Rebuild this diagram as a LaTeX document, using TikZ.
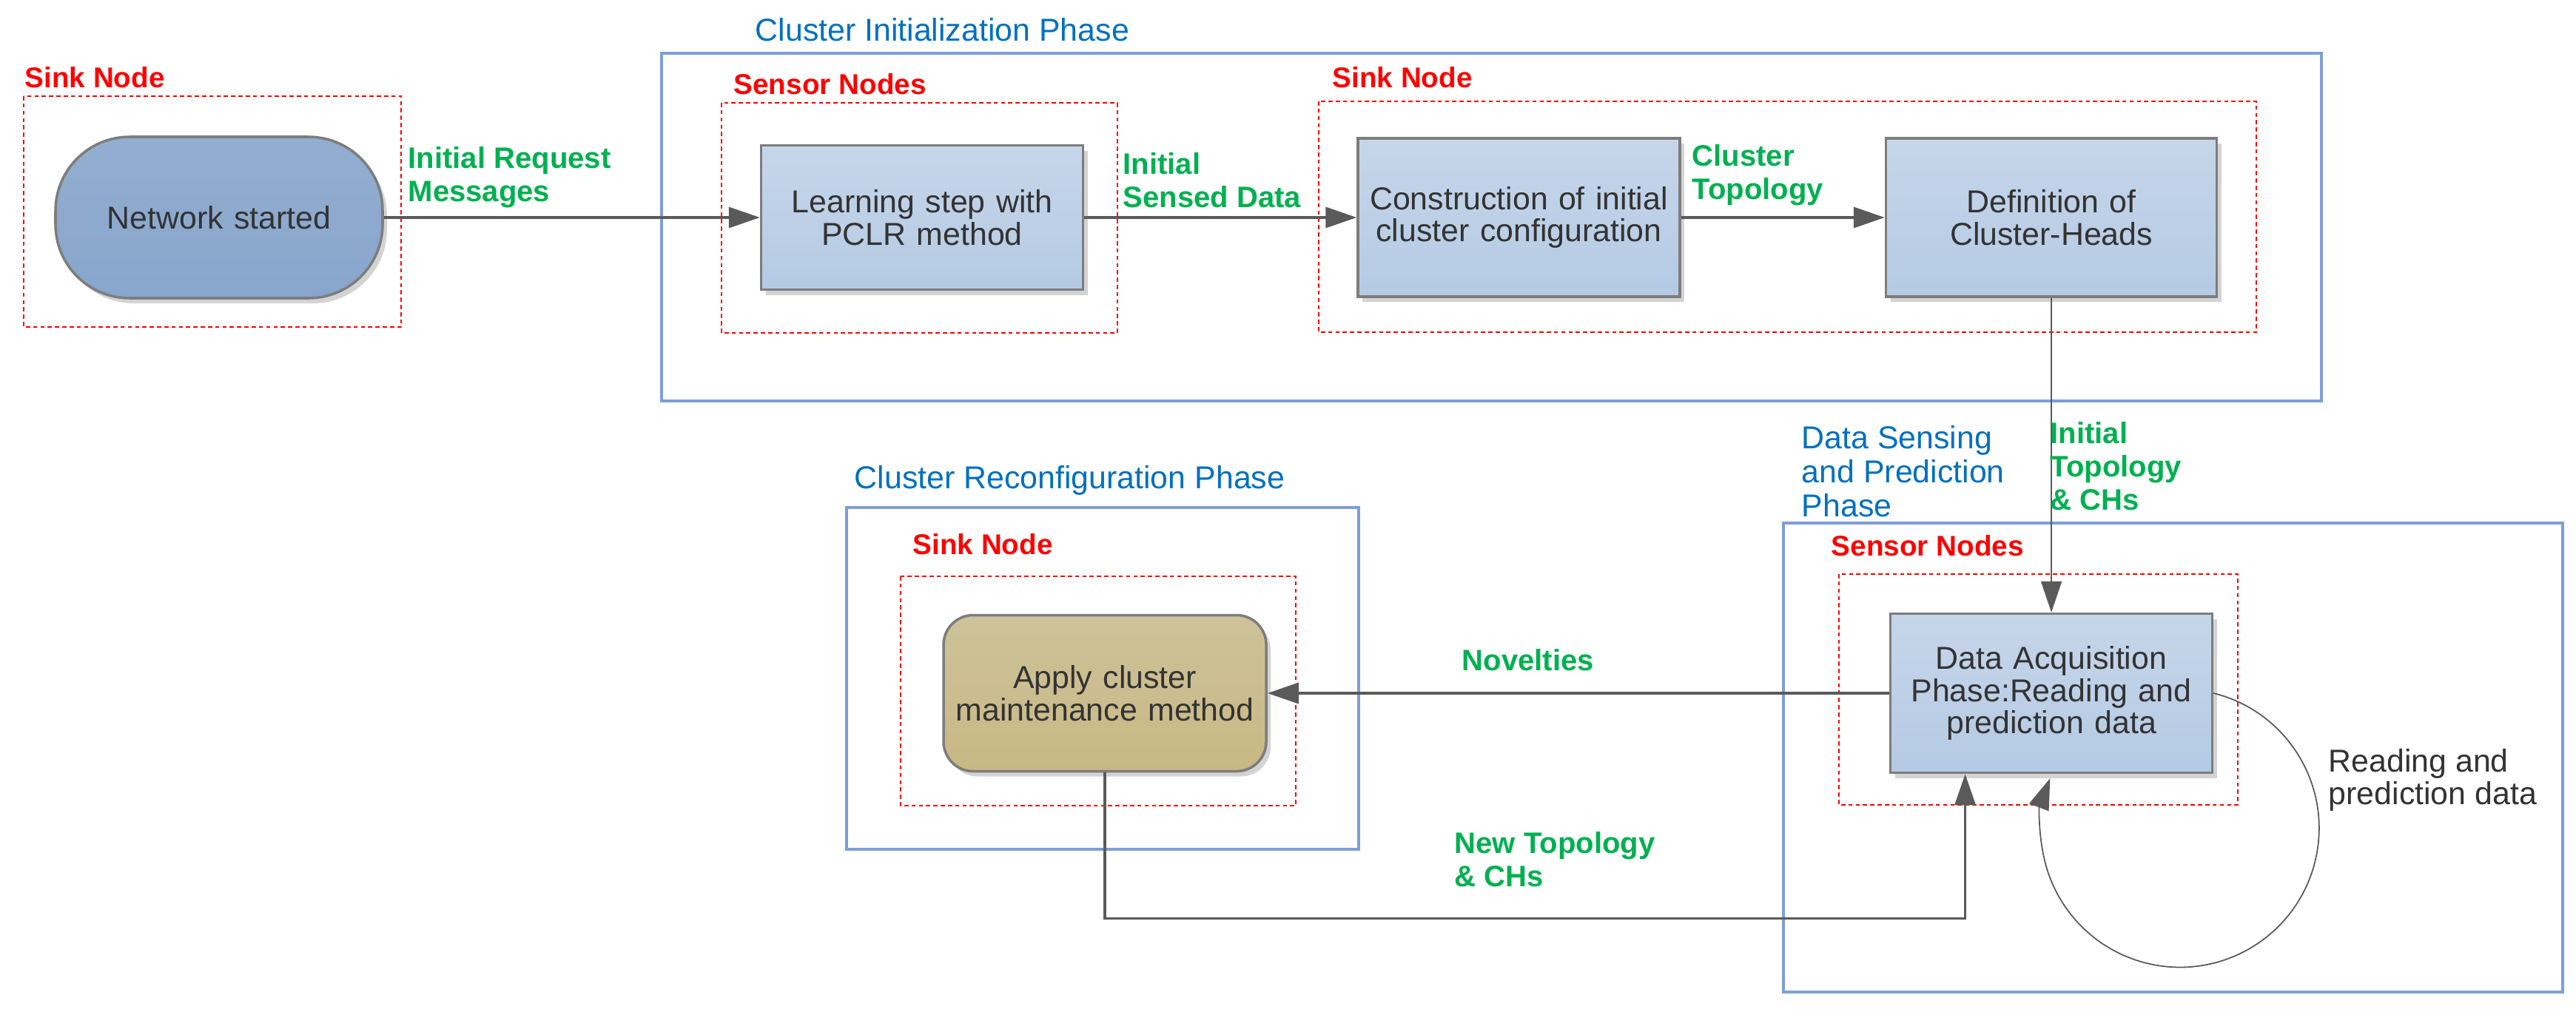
\documentclass[tikz,border=0pt]{standalone}
\usepackage{fontspec}
\setmainfont{Liberation Sans}
\usetikzlibrary{arrows.meta,positioning,shadows}

\definecolor{nodetext}{RGB}{51,51,51}
\definecolor{boxgray}{RGB}{125,125,125}
\definecolor{linegray}{RGB}{90,90,90}
\definecolor{blocktop}{RGB}{198,214,233}
\definecolor{blockbot}{RGB}{180,202,228}
\definecolor{starttop}{RGB}{146,175,208}
\definecolor{startbot}{RGB}{136,165,204}
\definecolor{methodtop}{RGB}{205,194,153}
\definecolor{methodbot}{RGB}{200,184,132}
\definecolor{phaseblue}{RGB}{125,158,215}
\definecolor{titleblue}{RGB}{0,112,192}
\definecolor{msggreen}{RGB}{0,176,80}

\newcommand{\nodefont}{\fontsize{12.2}{12.4}\selectfont}
\newcommand{\phasefont}{\fontsize{12.2}{13}\selectfont}
\newcommand{\actorfont}{\fontsize{11}{12.8}\selectfont\bfseries}
\newcommand{\msgfont}{\fontsize{11.4}{12.8}\selectfont\bfseries}

\tikzstyle{block} = [rectangle, draw=boxgray, line width=1pt, top color=blocktop, bottom color=blockbot,
    text=nodetext, text width=4.1cm, align=center, font=\nodefont,
    drop shadow={shadow xshift=0.6mm, shadow yshift=-0.7mm, opacity=0.35}]
\tikzstyle{start} = [block, rounded corners=1cm, top color=starttop, bottom color=startbot]
\tikzstyle{method} = [block, rounded corners=0.4cm, top color=methodtop, bottom color=methodbot]
\tikzstyle{line} = [draw=linegray, line width=1pt, -{Triangle[length=4.2mm,width=2.8mm]}]
\tikzstyle{thinline} = [line, line width=0.5pt]
\tikzstyle{phase} = [draw=phaseblue, line width=1.2pt]
\tikzstyle{actor} = [draw=red, line width=0.8pt, dash pattern=on 1.6pt off 1.2pt]
\tikzstyle{phaselabel} = [anchor=base west, inner sep=0, text=titleblue, font=\phasefont]
\tikzstyle{actorlabel} = [anchor=base west, inner sep=0, text=red, font=\actorfont]
\tikzstyle{msg} = [anchor=north west, inner sep=0, align=left, text=msggreen, font=\msgfont]

\begin{document}
\begin{tikzpicture}
		\useasboundingbox (0,0) rectangle (34.81,-13.71);
		% Phases
		\draw [phase] (8.94,-0.72) rectangle (31.37,-5.42);
		\draw [phase] (11.44,-6.86) rectangle (18.36,-11.48);
		\draw [phase] (24.10,-7.07) rectangle (34.63,-13.41);
		\node [phaselabel] at (10.20,-0.55) {Cluster Initialization Phase};
		\node [phaselabel] at (11.54,-6.60) {Cluster Reconfiguration Phase};
		\node [phaselabel, anchor=north west, align=left] at (24.34,-5.75) {Data Sensing\\and Prediction\\Phase};
		% Sink and sensor areas
		\draw [actor] (0.32,-1.30) rectangle (5.42,-4.42);
		\draw [actor] (9.75,-1.39) rectangle (15.10,-4.50);
		\draw [actor] (17.82,-1.37) rectangle (30.49,-4.49);
		\draw [actor] (12.17,-7.79) rectangle (17.51,-10.89);
		\draw [actor] (24.85,-7.76) rectangle (30.24,-10.88);
		\node [actorlabel] at (0.33,-1.18) {Sink Node};
		\node [actorlabel] at (9.91,-1.27) {Sensor Nodes};
		\node [actorlabel] at (18.00,-1.18) {Sink Node};
		\node [actorlabel] at (12.33,-7.49) {Sink Node};
		\node [actorlabel] at (24.74,-7.51) {Sensor Nodes};
		% Draw nodes
		\node [start, minimum width=4.42cm, minimum height=2.18cm] (net) at (2.96,-2.94) {Network started};
		\node [block, minimum width=4.35cm, minimum height=1.95cm, right=5.08cm of net] (learn) {Learning step with\\PCLR method};
		\node [block, minimum width=4.35cm, minimum height=2.14cm, right=3.68cm of learn] (constr) {Construction of initial\\cluster configuration};
		\node [block, minimum width=4.47cm, minimum height=2.14cm, right=2.75cm of constr] (defn) {Definition of\\Cluster-Heads};
		\node [block, minimum width=4.35cm, minimum height=2.15cm, below=4.25cm of defn] (acq) {Data Acquisition\\Phase:Reading and\\prediction data};
		\node [method, minimum width=4.36cm, minimum height=2.11cm, left=8.4cm of acq] (apply) {Apply cluster\\maintenance method};
		% Draw lines connecting (arrows)
		\path [line] (net) -- (learn);
		\path [line] (learn) -- (constr);
		\path [line] (constr) -- (defn);
		\path [thinline] (defn) -- (acq);
		\path [line] (acq) -- (apply);
		\path [line] (apply.south) -- ++(0,-1.97) -| ([xshift=-1.165cm]acq.south);
		\path [thinline] (acq.east) arc [start angle=76, end angle=-201, radius=1.88cm];
		% Message labels
		\node [msg] at (5.51,-1.98) {Initial Request\\Messages};
		\node [msg] at (15.17,-2.06) {Initial\\Sensed Data};
		\node [msg] at (22.86,-1.95) {Cluster\\Topology};
		\node [msg] at (27.70,-5.70) {Initial\\Topology\\\& CHs};
		\node [msg] at (19.75,-8.77) {Novelties};
		\node [msg] at (19.65,-11.24) {New Topology\\\& CHs};
		\node [msg, text=nodetext, font=\nodefont\mdseries] at (31.46,-10.12) {Reading and\\prediction data};
	\end{tikzpicture}
\end{document}
